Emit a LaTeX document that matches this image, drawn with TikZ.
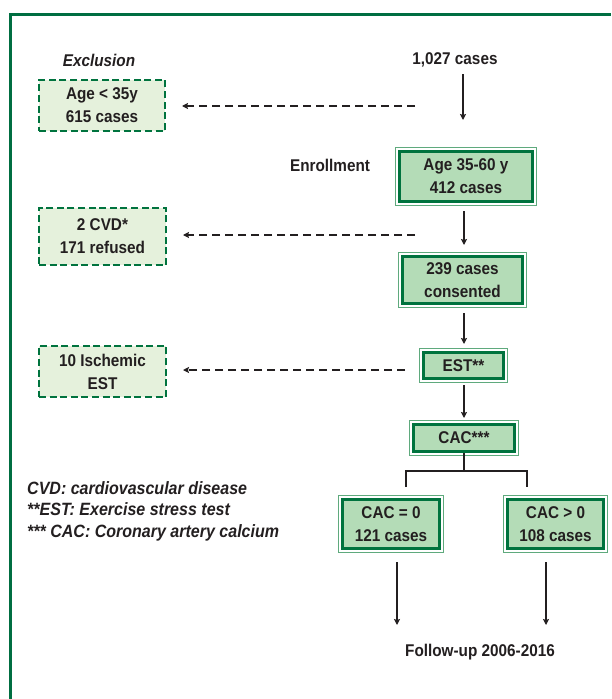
\documentclass[tikz,border=0pt]{standalone}
\usepackage{fontspec}
\setmainfont{Liberation Sans}[FakeStretch=0.9]
\usetikzlibrary{arrows.meta}
\definecolor{dkgreen}{RGB}{0,115,62}
\definecolor{midgreen}{RGB}{95,170,125}
\definecolor{boxfill}{RGB}{180,220,183}
\definecolor{exfill}{RGB}{229,241,220}
\definecolor{framegreen}{RGB}{0,110,65}
\definecolor{txt}{RGB}{35,31,32}
\begin{document}
\begin{tikzpicture}[x=1pt,y=-1pt,
  every node/.style={text=txt, font=\fontsize{17}{23}\selectfont\bfseries},
  mainbox/.style={rectangle, fill=boxfill, draw=dkgreen, line width=3pt,
    preaction={draw=midgreen, line width=9pt},
    preaction={draw=white, line width=7pt},
    inner sep=0pt, align=center},
  exbox/.style={rectangle, fill=exfill, draw=dkgreen, line width=2.6pt,
    dash pattern=on 7pt off 3.6pt, inner sep=0pt, align=center},
  lbl/.style={inner sep=0pt},
  arr/.style={draw=txt, line width=1.8pt, -{Stealth[length=6pt,width=6pt,inset=1pt]}},
  darr/.style={draw=txt, line width=2pt, dash pattern=on 8pt off 5pt,
    -{Stealth[length=6pt,width=6pt,inset=1pt]}},
  plain/.style={draw=txt, line width=2.4pt}]
\useasboundingbox (0,0) rectangle (611,699);
\draw[framegreen, line width=3pt] (10.5,699) -- (10.5,14) -- (611,14);

% labels
\node[lbl] (tot) at (455,60) {1,027 cases};
\node[lbl, font=\fontsize{17}{23}\selectfont\bfseries\itshape] (exl) at (99,60) {Exclusion};
\node[lbl] (enr) at (330,165) {Enrollment};
\node[lbl] (fu) at (480,652) {Follow-up 2006-2016};
\node[lbl, anchor=west, align=left,
  font=\fontsize{17.8}{21.5}\selectfont\bfseries\itshape] (leg) at (27,511)
  {CVD: cardiovascular disease\\**EST: Exercise stress test\\*** CAC: Coronary artery calcium};

% main boxes
\node[mainbox, minimum width=133, minimum height=50] (age) at (466,176.5) {Age 35-60 y\\412 cases};
\node[mainbox, minimum width=120, minimum height=47] (cons) at (462.5,280) {239 cases\\consented};
\node[mainbox, minimum width=80, minimum height=26] (est) at (463.5,365.5) {EST**};
\node[mainbox, minimum width=101, minimum height=27] (cac) at (464,438) {CAC***};
\node[mainbox, minimum width=97, minimum height=49] (c0) at (391,524) {CAC = 0\\121 cases};
\node[mainbox, minimum width=96, minimum height=49] (c1) at (555.5,524) {CAC > 0\\108 cases};

% exclusion boxes
\node[exbox, minimum width=126, minimum height=51] (ex1) at (102,105.5) {Age < 35y\\615 cases};
\node[exbox, minimum width=127, minimum height=57] (ex2) at (102.5,236.5) {2 CVD*\\171 refused};
\node[exbox, minimum width=127, minimum height=51] (ex3) at (102.5,371.5) {10 Ischemic\\EST};

% coordinates
\coordinate (a1s) at (463,74);   \coordinate (a1e) at (463,120);
\coordinate (a2s) at (464,211);  \coordinate (a2e) at (464,245);
\coordinate (a3s) at (464,313);  \coordinate (a3e) at (464,344);
\coordinate (a4s) at (464,385);  \coordinate (a4e) at (464,418);
\coordinate (d1s) at (415,106);  \coordinate (d1e) at (182,106);
\coordinate (d2s) at (415,235);  \coordinate (d2e) at (183,235);
\coordinate (d3s) at (405,370);  \coordinate (d3e) at (183,370);
\coordinate (bj) at (464,471);
\coordinate (bl) at (406,471);   \coordinate (bld) at (406,487);
\coordinate (br) at (527,471);   \coordinate (brd) at (527,487);
\coordinate (f0s) at (397,562);  \coordinate (f0e) at (397,625);
\coordinate (f1s) at (546,562);  \coordinate (f1e) at (546,625);

\draw[arr] (a1s) -- (a1e);
\draw[arr] (a2s) -- (a2e);
\draw[arr] (a3s) -- (a3e);
\draw[arr] (a4s) -- (a4e);
\draw[darr] (d1s) -- (d1e);
\draw[darr] (d2s) -- (d2e);
\draw[darr] (d3s) -- (d3e);
\draw[plain] (cac.south) -- (bj);
\draw[plain] (bld) -- (bl) -- (br) -- (brd);
\draw[arr] (f0s) -- (f0e);
\draw[arr] (f1s) -- (f1e);
\end{tikzpicture}
\end{document}
